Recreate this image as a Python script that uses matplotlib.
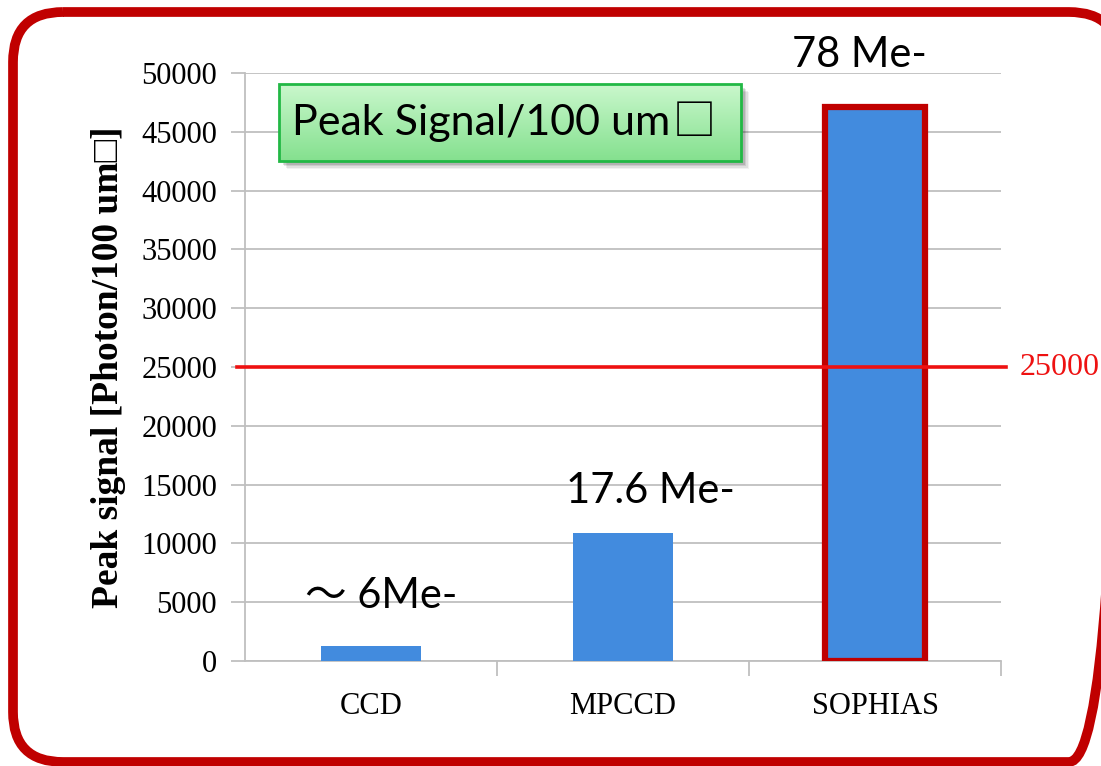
import numpy as np
import matplotlib.pyplot as plt
from matplotlib.patches import FancyBboxPatch, Rectangle

# データ
categories = ['CCD', 'MPCCD', 'SOPHIAS']
peak_signal = [1300, 10900, 47100]
bar_notes = ['～ 6Me-', '17.6 Me-', '78 Me-']
note_x = [0.04, 1.11, 1.94]
note_y = [5530, 14460, 51530]
threshold = 25000

W, H = 1101, 766
fig = plt.figure(figsize=(W / 100, H / 100), dpi=100)

serif = ['Liberation Serif', 'DejaVu Sans']
sans = ['Lato', 'Noto Sans CJK JP', 'DejaVu Sans']

ax = fig.add_axes([245 / W, 1 - 661 / H, (1001 - 245) / W, (661 - 73) / H])
ax.set_zorder(2)
ax.patch.set_alpha(0)

x = np.arange(len(categories))
bars = ax.bar(x, peak_signal, width=0.4, color='#428BDE', zorder=3)
bars[2].set_edgecolor('#C00000')
bars[2].set_linewidth(4.5)

ax.set_xlim(-0.5, 2.5)
ax.set_ylim(0, 50000)
ax.set_yticks(np.arange(0, 50001, 5000))
ax.set_yticklabels([str(v) for v in range(0, 50001, 5000)], family=serif, fontsize=22)
ax.yaxis.grid(True, color='#BFBFBF', linewidth=1.3)
ax.set_axisbelow(True)
ax.tick_params(axis='y', length=10, color='#BFBFBF', width=1.3, pad=10)

ax.set_xticks(x)
ax.set_xticklabels(categories, family=serif, fontsize=22)
ax.tick_params(axis='x', length=0, pad=22)
# 区切りの目盛り
ax.set_xticks([0.5, 1.5, 2.5], minor=True)
ax.tick_params(axis='x', which='minor', length=11, color='#BFBFBF', width=1.3)

for s in ['top', 'right']:
    ax.spines[s].set_visible(False)
for s in ['left', 'bottom']:
    ax.spines[s].set_color('#BFBFBF')
    ax.spines[s].set_linewidth(1.3)

ax.set_ylabel('Peak signal [Photon/100 um□]', family=serif, fontsize=27,
              fontweight='bold', labelpad=11)

# 25000 ライン
ax.axhline(threshold, xmin=-0.011, xmax=1.006, color='#EE1111', linewidth=2.6,
           clip_on=False, zorder=4)
ax.text(1.025, threshold, str(threshold), transform=ax.get_yaxis_transform(),
        color='#EE1111', family=serif, fontsize=23, va='center', ha='left')

for xi, yi, note in zip(note_x, note_y, bar_notes):
    ax.text(xi, yi, note, family=sans, fontsize=30, ha='center', va='center',
            clip_on=False, zorder=5)

# 装飾用レイヤー（ピクセル座標）
deco = fig.add_axes([0, 0, 1, 1])
deco.set_xlim(0, W)
deco.set_ylim(H, 0)
deco.axis('off')
deco.set_zorder(5)
deco.patch.set_alpha(0)

frame = FancyBboxPatch((13, 12), 1106, 750, boxstyle='round,pad=0,rounding_size=50',
                       fill=False, edgecolor='#C00000', linewidth=7, clip_on=False)
deco.add_patch(frame)

# 緑のラベルボックス（影つき）
bx0, by0, bx1, by1 = 279, 84, 741, 161
for i, a in enumerate([0.05, 0.07, 0.09, 0.12]):
    off = 8 - i * 1.5
    deco.add_patch(Rectangle((bx0 + off, by0 + off), bx1 - bx0, by1 - by0,
                             facecolor='black', alpha=a, edgecolor='none'))
grad = np.linspace(0, 1, 64).reshape(-1, 1)
top = np.array([0.79, 0.97, 0.80])
bot = np.array([0.52, 0.88, 0.56])
img = top + (bot - top) * grad[:, :, None]
deco.imshow(img, extent=(bx0, bx1, by1, by0), aspect='auto', zorder=3)
deco.add_patch(Rectangle((bx0, by0), bx1 - bx0, by1 - by0, fill=False,
                         edgecolor='#22B845', linewidth=2, zorder=4))
deco.text(670, (by0 + by1) / 2 + 1, 'Peak Signal/100 um', family=sans,
          fontsize=31, ha='right', va='center', zorder=5)
deco.text(673, (by0 + by1) / 2 + 1, '□', family=['Noto Sans CJK JP'],
          fontsize=31, ha='left', va='center', zorder=5)
deco.set_xlim(0, W)
deco.set_ylim(H, 0)

fig.savefig('out.png', dpi=100)
